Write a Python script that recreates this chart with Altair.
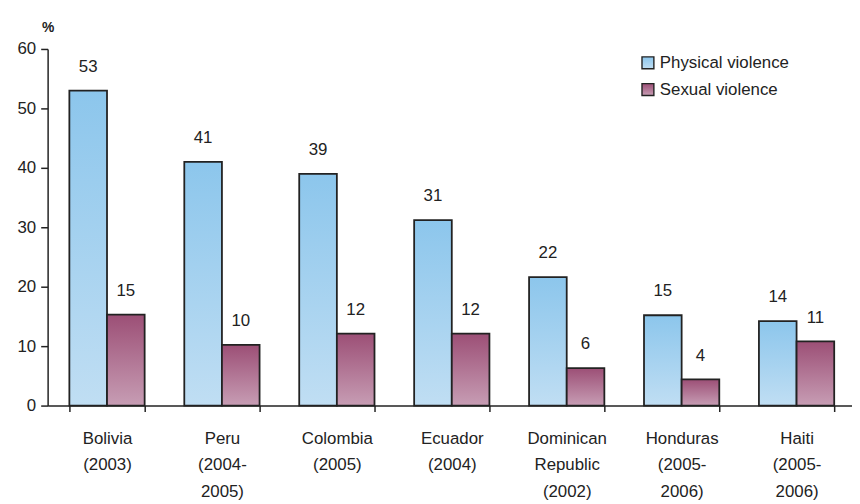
import altair as alt
import pandas as pd

countries = ["Bolivia|(2003)", "Peru|(2004-|2005)", "Colombia|(2005)", "Ecuador|(2004)",
             "Dominican|Republic|(2002)", "Honduras|(2005-|2006)", "Haiti|(2005-|2006)"]
series_names = ["Physical violence", "Sexual violence"]
physical = [53.0, 41.0, 39.0, 31.2, 21.6, 15.2, 14.2]
sexual = [15.3, 10.2, 12.1, 12.1, 6.3, 4.4, 10.8]
y_ticks = [0, 10, 20, 30, 40, 50, 60]

rows = []
for c, p, s in zip(countries, physical, sexual):
    rows.append({"country": c, "series": series_names[0], "value": p})
    rows.append({"country": c, "series": series_names[1], "value": s})
df = pd.DataFrame(rows)

FONT = "Liberation Sans"
INK = "#222222"

grad_phys = alt.LinearGradient(gradient="linear", x1=0, x2=0, y1=0, y2=1,
                               stops=[alt.GradientStop(color="#8cc6ec", offset=0),
                                      alt.GradientStop(color="#c0def3", offset=1)])
grad_sex = alt.LinearGradient(gradient="linear", x1=0, x2=0, y1=0, y2=1,
                              stops=[alt.GradientStop(color="#9c4f76", offset=0),
                                     alt.GradientStop(color="#c79db4", offset=1)])

x_enc = alt.X("country:N", sort=countries,
              scale=alt.Scale(paddingInner=0.345, paddingOuter=0.172, align=0.55),
              axis=alt.Axis(title=None, labelExpr="split(datum.label, '|')", labelAngle=0,
                            tickBand="extent", tickSize=6, tickWidth=1.5, domainWidth=1.5,
                            labelPadding=19, labelFontSize=17, labelLineHeight=27,
                            labelFont=FONT, labelColor=INK, domainColor=INK, tickColor=INK))
xo_enc = alt.XOffset("series:N", scale=alt.Scale(domain=series_names))
y_enc = alt.Y("value:Q", scale=alt.Scale(domain=[0, 60]),
              axis=alt.Axis(values=y_ticks, title="%", titleAngle=0, titleX=0, titleY=-22,
                            titleAlign="center", titleBaseline="middle", titleFontWeight="bold",
                            titleFontSize=14, titleFont=FONT, titleColor=INK,
                            grid=False, tickSize=7, tickWidth=1.5, domainWidth=1.5,
                            labelPadding=5, labelFontSize=17, labelFont=FONT, labelColor=INK,
                            domainColor=INK, tickColor=INK))

base = alt.Chart(df)

bars_p = base.transform_filter(alt.datum.series == series_names[0]).mark_bar(
    fill=grad_phys, stroke=INK, strokeWidth=1.8).encode(x=x_enc, xOffset=xo_enc, y=y_enc)
bars_s = base.transform_filter(alt.datum.series == series_names[1]).mark_bar(
    fill=grad_sex, stroke=INK, strokeWidth=1.8).encode(x=x_enc, xOffset=xo_enc, y=y_enc)
labels = base.mark_text(baseline="alphabetic", dy=-19, fontSize=17, font=FONT, color=INK).encode(
    x=x_enc, xOffset=xo_enc, y=y_enc, text=alt.Text("value:Q", format=".0f"))

leg_df1 = pd.DataFrame({"s": [series_names[0]]})
leg_df2 = pd.DataFrame({"s": [series_names[1]]})
leg_sq1 = alt.Chart(leg_df1).mark_rect(fill=grad_phys, stroke=INK, strokeWidth=1.4).encode(
    x=alt.value(600), x2=alt.value(612), y=alt.value(8), y2=alt.value(20))
leg_sq2 = alt.Chart(leg_df2).mark_rect(fill=grad_sex, stroke=INK, strokeWidth=1.4).encode(
    x=alt.value(600), x2=alt.value(612), y=alt.value(35), y2=alt.value(47))
leg_t1 = alt.Chart(leg_df1).mark_text(align="left", baseline="middle", fontSize=17, font=FONT,
                                      color=INK).encode(x=alt.value(618), y=alt.value(14), text="s:N")
leg_t2 = alt.Chart(leg_df2).mark_text(align="left", baseline="middle", fontSize=17, font=FONT,
                                      color=INK).encode(x=alt.value(618), y=alt.value(41), text="s:N")

chart = alt.layer(bars_p, bars_s, labels, leg_sq1, leg_sq2, leg_t1, leg_t2).properties(
    width=812, height=360, autosize="none",
    padding={"left": 40, "top": 39, "right": 0, "bottom": 97}
).configure(background="white").configure_view(stroke=None)

chart.save("out.html", embed_options={"renderer": "svg", "actions": False})
